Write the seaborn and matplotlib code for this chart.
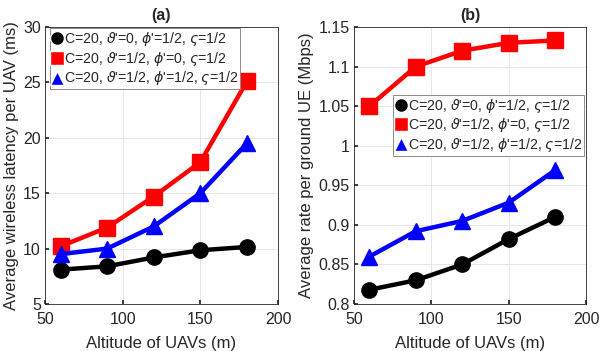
import numpy as np
import pandas as pd
import matplotlib
matplotlib.use("Agg")
import matplotlib.pyplot as plt
from matplotlib import font_manager as fm
import seaborn as sns

altitude = [60, 90, 120, 150, 180]
labels = [r"C=20, $\vartheta$'=0, $\phi$'=1/2, $\varsigma$=1/2",
          r"C=20, $\vartheta$'=1/2, $\phi$'=0, $\varsigma$=1/2",
          r"C=20, $\vartheta$'=1/2, $\phi$'=1/2, $\varsigma$=1/2"]

# (a) latency per UAV (ms)
lat_black = [8.1, 8.4, 9.2, 9.85, 10.15]
lat_red = [10.2, 11.9, 14.7, 17.8, 25.1]
lat_blue = [9.5, 10.0, 12.0, 15.0, 19.5]

# (b) rate per ground UE (Mbps)
rate_black = [0.818, 0.830, 0.850, 0.882, 0.910]
rate_red = [1.050, 1.100, 1.120, 1.130, 1.133]
rate_blue = [0.860, 0.892, 0.905, 0.928, 0.969]

colors = ["black", "red", "blue"]
markers = ["o", "s", "^"]

sns.set_theme(style="whitegrid")

fam = "DejaVu Sans"
for f in fm.fontManager.ttflist:
    if f.fname.endswith("LiberationSans-Regular.ttf"):
        fam = f.name
plt.rcParams["font.family"] = [fam, "DejaVu Sans"]
plt.rcParams["mathtext.fontset"] = "dejavusans"


def long_df(series):
    rows = []
    for lab, vals in zip(labels, series):
        for x, v in zip(altitude, vals):
            rows.append({"alt": x, "val": v, "case": lab})
    return pd.DataFrame(rows)


fig = plt.figure(figsize=(5.99, 3.51), dpi=100)
ax1 = fig.add_axes([45/599, 1-304/351, 233/599, 277/351])
ax2 = fig.add_axes([354/599, 1-304/351, 232/599, 277/351])

panels = [
    (ax1, [lat_black, lat_red, lat_blue], "(a)", "Average wireless latency per UAV (ms)",
     (5, 30), [5, 10, 15, 20, 25, 30], ["5", "10", "15", "20", "25", "30"]),
    (ax2, [rate_black, rate_red, rate_blue], "(b)", "Average rate per ground UE (Mbps)",
     (0.8, 1.15), [0.8, 0.85, 0.9, 0.95, 1.0, 1.05, 1.1, 1.15],
     ["0.8", "0.85", "0.9", "0.95", "1", "1.05", "1.1", "1.15"]),
]

for ax, series, title, ylabel, ylim, yt, ytl in panels:
    df = long_df(series)
    sns.lineplot(data=df, x="alt", y="val", hue="case", style="case",
                 palette=colors, markers=markers, dashes=False,
                 linewidth=3.2, markersize=11, markeredgewidth=1,
                 ax=ax)
    for ln, c in zip(ax.get_lines(), colors):
        ln.set_markeredgecolor(c)
    ax.set_xlim(50, 200)
    ax.set_xticks([50, 100, 150, 200])
    ax.set_ylim(*ylim)
    ax.set_yticks(yt)
    ax.set_yticklabels(ytl)
    ax.set_xlabel("Altitude of UAVs (m)", fontsize=12, labelpad=6)
    ax.set_ylabel(ylabel, fontsize=12, labelpad=3)
    ax.set_title(title, fontsize=11.5, fontweight="bold", pad=5)
    ax.tick_params(labelsize=11.5, direction="in", length=3,
                   color="#262626", bottom=True, left=True)
    ax.tick_params(axis="x", pad=6)
    ax.tick_params(axis="y", pad=3)
    ax.grid(True, color="#e6e6e6", linewidth=0.7)
    for s in ax.spines.values():
        s.set_color("#262626")
        s.set_linewidth(0.6)
    ax.get_legend().remove()

h, l = ax1.get_legend_handles_labels()
leg_kw = dict(fontsize=10.2, handlelength=0.8, handletextpad=0.1,
              borderpad=0.12, labelspacing=0.12, borderaxespad=0,
              frameon=True, fancybox=False, edgecolor="#8c8c8c", framealpha=1)
la = ax1.legend(h, l, loc="upper left", bbox_to_anchor=(0.02, 0.995), **leg_kw)
lb = ax2.legend(h, l, loc="upper right", bbox_to_anchor=(0.99, 0.755), **leg_kw)
for lg in (la, lb):
    lg.get_frame().set_linewidth(0.7)
    for hl in lg.legend_handles:
        hl.set_linewidth(0)
        hl.set_markersize(10)

fig.savefig("out.png", dpi=100)
